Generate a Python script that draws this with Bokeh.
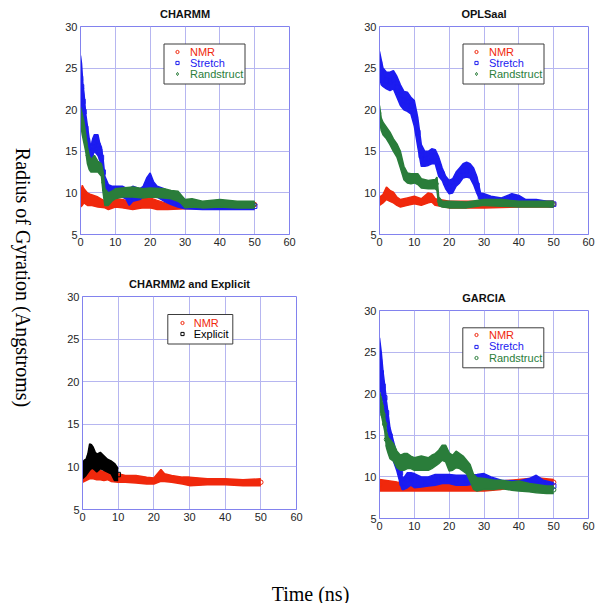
import math
from bokeh.plotting import figure
from bokeh.layouts import row, column
from bokeh.models import (FixedTicker, Legend, LegendItem, BoxAnnotation,
                          Range1d, ColumnDataSource, Spacer)
from bokeh.core.properties import value
from bokeh.embed import file_html
from bokeh.resources import INLINE

# ---------------- data ----------------
x_ticks = [0, 10, 20, 30, 40, 50, 60]
y_ticks = [5, 10, 15, 20, 25, 30]

# CHARMM
charmm_nmr_t = [0, 0.5, 1, 2, 3, 5, 7, 8, 10, 12, 15, 18, 20, 22, 25, 30, 40, 50]
charmm_nmr_lo = [8.3, 8.5, 8.8, 8.5, 8.5, 8.3, 8.2, 8.0, 8.3, 8.2, 8.0, 8.2, 8.2, 8.0, 8.0, 8.1, 8.2, 8.3]
charmm_nmr_hi = [9.8, 10.9, 10.5, 10.0, 9.8, 9.5, 9.0, 8.8, 9.3, 9.2, 8.9, 9.3, 9.4, 9.1, 8.7, 8.8, 8.8, 8.9]

charmm_str_t = [0, 0.3, 0.7, 1, 1.5, 2, 2.5, 3, 3.5, 4, 5, 5.5, 6, 6.5, 7, 8, 9, 10, 12, 13,
                14, 15, 17, 18, 19, 20, 21, 22, 24, 26, 28, 30, 35, 40, 45, 50]
charmm_str_lo = [21, 20, 19, 17.5, 16, 14.5, 13.5, 13.5, 14.5, 15, 14.5, 14, 13, 11, 9, 9, 9.3, 9.5, 9.5, 9.3,
                 8.5, 9, 9.2, 9.5, 10, 10.3, 9.8, 9.5, 9, 8.6, 8.3, 8.1, 8.0, 8.0, 8.0, 8.0]
charmm_str_hi = [26.5, 25.5, 23, 22, 19.5, 18, 16.5, 15.5, 16.5, 17, 17, 16, 15.5, 14, 12, 11, 10.8, 10.8, 10.8, 10.6,
                 10.5, 10.8, 10.5, 10.8, 11.8, 12.4, 11.3, 10.8, 10.5, 10, 9.5, 9.0, 8.7, 8.8, 8.6, 8.8]

charmm_rnd_t = [0, 0.5, 1, 1.5, 2, 2.5, 3, 4, 5, 6, 6.5, 7, 8, 9, 10, 12, 15, 18, 20, 24,
                26, 28, 29, 30, 32, 35, 40, 45, 50]
charmm_rnd_lo = [18.5, 17, 16, 15, 13.5, 12.8, 12.5, 12.5, 12.5, 12, 10, 8.5, 8.5, 9, 9.3, 9.5, 9.5, 9.4, 9.5, 9.4,
                 9.3, 9, 8.7, 8.2, 8.3, 8.2, 8.3, 8.2, 8.2]
charmm_rnd_hi = [20.3, 19.5, 18.5, 17, 15.5, 14.5, 14, 14.5, 13.8, 13.5, 12.5, 10.5, 10, 10.2, 10.5, 10.6, 10.7, 10.5, 10.6, 10.5,
                 10.3, 10.2, 9.7, 9.2, 9.3, 9.0, 9.2, 9.0, 9.0]

# OPLSaal
opls_nmr_t = [0, 1, 2, 3, 4, 5, 6, 8, 10, 12, 14, 15, 16, 20, 30, 40, 50]
opls_nmr_lo = [8.5, 8.8, 9.2, 9.0, 8.8, 8.5, 8.3, 8.5, 8.7, 8.5, 8.8, 8.9, 8.5, 8.2, 8.2, 8.3, 8.3]
opls_nmr_hi = [9.5, 9.8, 10.7, 10.3, 10.1, 9.5, 9.2, 9.4, 9.6, 9.3, 10.0, 9.9, 9.3, 9.0, 9.0, 9.0, 9.0]

opls_str_t = [0, 0.5, 1, 2, 3, 4, 5, 6, 7, 8, 9, 10, 11, 12, 13, 14, 15, 16, 17, 18,
              19, 20, 21, 22, 23, 24, 25, 26, 27, 28, 29, 30, 32, 35, 38, 40, 42, 45, 48, 50]
opls_str_lo = [24, 23, 22.8, 22.5, 22.3, 22.5, 21.5, 20.5, 20, 19.8, 19.5, 18, 15.5, 13.2, 13.2, 13.3, 13.5, 13.5, 12, 11.5,
               10.5, 9.9, 10.0, 10.8, 11.2, 11.8, 11.9, 11.8, 11, 9.9, 9.1, 8.8, 8.8, 8.6, 8.8, 8.7, 8.6, 8.4, 8.4, 8.3]
opls_str_hi = [27, 26, 25, 24.5, 24.5, 24.7, 24, 23, 22.2, 22.1, 21.5, 21.1, 19, 15.8, 15, 15, 15.3, 15.2, 14.3, 13,
               12, 11.5, 11.7, 12.5, 13, 13.5, 13.7, 13.5, 13, 11.9, 10, 9.9, 9.6, 9.4, 9.9, 9.7, 9.2, 9.2, 9, 9]

opls_rnd_t = [0, 0.5, 1, 2, 3, 4, 5, 6, 7, 8, 9, 10, 11, 12, 14, 16, 16.5, 17, 18, 20,
              25, 30, 35, 40, 45, 50]
opls_rnd_lo = [18.7, 17.5, 17, 16.5, 15.8, 15, 14.3, 13, 11.6, 11.2, 11.1, 11.2, 11, 10.6, 10.5, 10.5, 10.3, 8.5, 8.3, 8.2,
               8.2, 8.5, 8.4, 8.3, 8.3, 8.3]
opls_rnd_hi = [20.5, 19, 18.5, 17.9, 17.3, 16.5, 15.9, 15, 13.2, 12.4, 12.3, 12.3, 12.3, 11.7, 11.5, 11.6, 11.9, 9.5, 9.0, 9.0,
               8.9, 9.2, 9.2, 9.0, 9.0, 9.0]

# CHARMM2 and Explicit
c2_nmr_t = [0, 1, 2, 3, 4, 5, 6, 7, 8, 10, 12, 15, 18, 20, 22, 23, 25, 28, 30, 35, 40, 45, 50]
c2_nmr_lo = [8.2, 8.4, 8.6, 8.6, 8.5, 8.5, 8.4, 8.5, 8.3, 8.2, 8.2, 8.1, 8.0, 8.0, 8.3, 8.3, 8.2, 8.0, 7.8, 7.9, 7.9, 7.8, 7.8]
c2_nmr_hi = [9.6, 9.4, 9.7, 9.7, 9.5, 9.6, 9.4, 9.8, 9.2, 9.2, 9.0, 9.0, 8.8, 8.7, 9.7, 9.2, 9.0, 8.8, 8.8, 8.6, 8.6, 8.5, 8.6]

c2_exp_t = [0, 0.5, 1, 1.5, 2, 2.5, 3, 3.5, 4, 5, 6, 7, 8, 9, 10]
c2_exp_lo = [8.6, 8.8, 9.0, 9.3, 9.6, 9.8, 9.8, 9.6, 9.4, 9.8, 9.6, 9.4, 9.2, 8.4, 8.4]
c2_exp_hi = [10.5, 10.8, 10.9, 11.5, 12.7, 12.6, 12.3, 11.8, 11.5, 11.7, 11.3, 10.9, 10.7, 10.4, 9.8]

# GARCIA
garcia_nmr_t = [0, 5, 10, 15, 20, 25, 30, 35, 40, 45, 50]
garcia_nmr_lo = [8.3, 8.3, 8.3, 8.3, 8.3, 8.3, 8.3, 8.5, 8.8, 9.1, 9.0]
garcia_nmr_hi = [9.7, 9.4, 9.3, 9.3, 9.3, 9.3, 9.4, 9.5, 9.7, 9.9, 9.7]

garcia_str_t = [0, 0.5, 1, 1.5, 2, 3, 4, 5, 6, 6.5, 7, 8, 9, 10, 12, 14, 16, 18, 20, 22,
                25, 28, 30, 32, 35, 40, 43, 45, 47, 50]
garcia_str_lo = [21, 20, 19.1, 18, 16.3, 13.9, 11.9, 10.7, 9.1, 8.5, 8.5, 8.7, 9, 8.7, 8.8, 8.9, 9, 9.2, 9.2, 9,
                 9, 9.2, 9.3, 9, 8.8, 8.8, 8.8, 9, 8.8, 8.5]
garcia_str_hi = [26.7, 25, 22.7, 21, 19.1, 15.9, 14.3, 12.7, 11.9, 10, 9.9, 10.5, 10.5, 10.4, 10, 10, 10.3, 10.3, 10.3, 10.2,
                 10.2, 10.3, 10.4, 10, 9.6, 9.5, 9.8, 10.2, 9.6, 9.3]

garcia_rnd_t = [0, 0.5, 1, 1.5, 2, 2.5, 3, 4, 5, 6, 7, 8, 9, 10, 12, 14, 15, 16, 17, 18,
                19, 20, 21, 22, 23, 24, 25, 26, 27, 28, 30, 33, 35, 38, 40, 43, 45, 48, 50]
garcia_rnd_lo = [18.5, 17.5, 16.5, 15.5, 13.5, 12.8, 12.2, 11.9, 11.1, 10.8, 10.8, 11.0, 11, 10.8, 10.8, 10.8, 11.0, 11.3, 11.6, 12.0,
                 11.8, 10.7, 10.8, 11.1, 11.0, 10.7, 10.4, 9.5, 8.5, 8.3, 8.5, 8.5, 8.6, 8.4, 8.3, 8.2, 8.1, 8.0, 8.0]
garcia_rnd_hi = [20.2, 19.5, 18.5, 17.2, 15.5, 14.7, 14.5, 14.0, 13.1, 12.6, 12.8, 12.8, 12.5, 12.3, 12.5, 12.3, 12.6, 12.8, 13.2, 13.8,
                 13.8, 12.9, 12.6, 13.1, 12.8, 12.5, 12.0, 11.5, 10.3, 9.9, 9.8, 9.6, 9.6, 9.4, 9.5, 9.2, 9.1, 8.9, 8.9]

# ---------------- styles ----------------
RED = "#f0280c"
BLUE = "#1c1cf0"
GREEN = "#2a7d3a"
BLACK = "#000000"
FRAME = "#8282ee"
GRID = "#b6b6f0"
SANS = "Liberation Sans"
SERIF = "Liberation Serif"


def make_panel(title, fw, fh, bl, br, bt, bb, standoff):
    p = figure(frame_width=fw, frame_height=fh,
               min_border_left=bl, min_border_right=br,
               min_border_top=bt, min_border_bottom=bb,
               x_range=Range1d(0, 60), y_range=Range1d(5, 30),
               toolbar_location=None, output_backend="svg", title=title)
    p.title.align = "center"
    p.title.vertical_align = "middle"
    p.title.text_font = SANS
    p.title.text_font_size = "11px"
    p.title.text_font_style = "bold"
    p.title.text_color = "#111111"
    p.title.standoff = standoff
    p.outline_line_color = FRAME
    p.outline_line_width = 1
    p.outline_line_alpha = 1
    p.background_fill_color = "white"
    p.border_fill_color = "white"
    for ax, ticks in ((p.xaxis[0], x_ticks), (p.yaxis[0], y_ticks)):
        ax.ticker = FixedTicker(ticks=ticks)
        ax.axis_line_color = FRAME
        ax.major_tick_in = 0
        ax.major_tick_out = 0
        ax.minor_tick_line_color = None
        ax.major_label_text_font = SANS
        ax.major_label_text_font_size = "11px"
        ax.major_label_text_color = "#262626"
        ax.major_label_standoff = 3
    p.xgrid.ticker = FixedTicker(ticks=x_ticks)
    p.ygrid.ticker = FixedTicker(ticks=y_ticks)
    p.grid.grid_line_color = GRID
    p.grid.grid_line_width = 1
    p.grid.grid_line_alpha = 1
    return p


def add_series(p, t, lo, hi, color, marker):
    mid = [(a + b) / 2 for a, b in zip(lo, hi)]
    src = ColumnDataSource(dict(t=t, lo=lo, hi=hi, mid=mid))
    p.varea(x="t", y1="lo", y2="hi", source=src, fill_color=color, fill_alpha=1)
    p.line(x="t", y="lo", source=src, line_color=color, line_width=1.5)
    p.line(x="t", y="hi", source=src, line_color=color, line_width=1.5)
    r = p.scatter(x="t", y="mid", source=src, marker=marker, size=4.5,
                  line_color=color, fill_color=None, line_width=1)
    return r


def add_legend(p, fw, fh, entries, box_left, box_top, box_w, box_h, rows, marker_x, text_x):
    p.add_layout(BoxAnnotation(left=box_left / fw * 60, right=(box_left + box_w) / fw * 60,
                               top=30 - box_top / fh * 25, bottom=30 - (box_top + box_h) / fh * 25,
                               fill_color="white", fill_alpha=1,
                               line_color="#3c3c3c", line_width=1, line_alpha=1))
    gw = 8
    lh = 11
    for (label, rend, color), rc in zip(entries, rows):
        leg = Legend(items=[LegendItem(label=label, renderers=[rend])],
                     location=(marker_x - gw / 2, fh - rc - lh / 2),
                     orientation="vertical", padding=0, margin=0, spacing=0,
                     glyph_width=gw, glyph_height=lh, label_height=lh,
                     label_standoff=int(text_x - marker_x - gw / 2),
                     label_text_color=color, label_text_font=SANS,
                     label_text_font_size="11px",
                     border_line_alpha=0, background_fill_alpha=0)
        p.add_layout(leg)


# Panel 1: CHARMM
p1 = make_panel("CHARMM", 209, 208, 32, 49, 26, 36, 12)
r1a = add_series(p1, charmm_nmr_t, charmm_nmr_lo, charmm_nmr_hi, RED, "circle")
r1b = add_series(p1, charmm_str_t, charmm_str_lo, charmm_str_hi, BLUE, "square")
r1c = add_series(p1, charmm_rnd_t, charmm_rnd_lo, charmm_rnd_hi, GREEN, "diamond")
add_legend(p1, 209, 208, [("NMR", r1a, RED), ("Stretch", r1b, BLUE), ("Randstruct", r1c, GREEN)],
           83.5, 17.5, 81, 40, [26, 37, 48], 97, 110)

# Panel 2: OPLSaal
p2 = make_panel("OPLSaal", 209, 208, 41, 16, 26, 36, 12)
r2a = add_series(p2, opls_nmr_t, opls_nmr_lo, opls_nmr_hi, RED, "circle")
r2b = add_series(p2, opls_str_t, opls_str_lo, opls_str_hi, BLUE, "square")
r2c = add_series(p2, opls_rnd_t, opls_rnd_lo, opls_rnd_hi, GREEN, "diamond")
add_legend(p2, 209, 208, [("NMR", r2a, RED), ("Stretch", r2b, BLUE), ("Randstruct", r2c, GREEN)],
           83.5, 17.5, 81, 40, [26, 37, 48], 97, 110)

# Panel 3: CHARMM2 and Explicit
p3 = make_panel("CHARMM2 and Explicit", 214, 213, 34, 42, 26, 59, 12)
r3a = add_series(p3, c2_nmr_t, c2_nmr_lo, c2_nmr_hi, RED, "circle")
r3b = add_series(p3, c2_exp_t, c2_exp_lo, c2_exp_hi, BLACK, "square")
add_legend(p3, 214, 213, [("NMR", r3a, RED), ("Explicit", r3b, BLACK)],
           85.3, 18, 65, 29.5, [27.3, 38.3], 99.7, 112)

# Panel 4: GARCIA
p4 = make_panel("GARCIA", 209, 208, 41, 16, 26, 50, 12)
r4a = add_series(p4, garcia_nmr_t, garcia_nmr_lo, garcia_nmr_hi, RED, "circle")
r4b = add_series(p4, garcia_str_t, garcia_str_lo, garcia_str_hi, BLUE, "square")
r4c = add_series(p4, garcia_rnd_t, garcia_rnd_lo, garcia_rnd_hi, GREEN, "circle")
add_legend(p4, 209, 208, [("NMR", r4a, RED), ("Stretch", r4b, BLUE), ("Randstruct", r4c, GREEN)],
           83.3, 17.3, 81, 40, [25, 36.7, 48.3], 97, 110)


def label_fig(w, h, x, y, txt, angle):
    f = figure(width=w, height=h, x_range=Range1d(0, 1), y_range=Range1d(0, 1),
               x_axis_location=None, y_axis_location=None, min_border=0,
               toolbar_location=None, output_backend="svg")
    f.outline_line_color = None
    f.grid.visible = False
    f.text(x=[x], y=[y], text=[txt], angle=angle, text_align="center",
           text_baseline="middle", text_font=value(SERIF), text_font_size="20px",
           text_color="black")
    return f


ylab = label_fig(48, 603, 22 / 48, (603 - 277) / 603, "Radius of Gyration (Angstroms)", -math.pi / 2)
xlab = label_fig(548, 35, 262 / 548, 10 / 35, "Time (ns)", 0)

p4_col = column(Spacer(width=266, height=14), p4)
layout = row(ylab, column(row(p1, p2), row(p3, p4_col), xlab))

open("out.html", "w").write(file_html(layout, INLINE))
